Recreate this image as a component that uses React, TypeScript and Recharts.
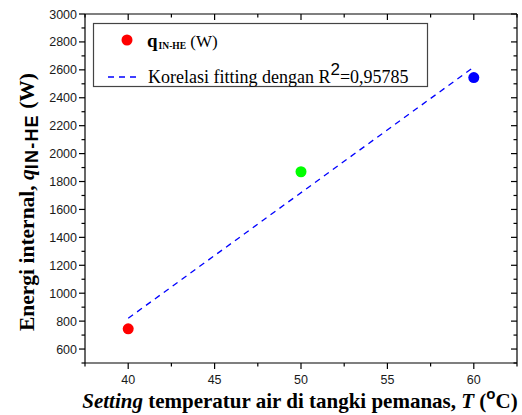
import { Cell, Scatter, ScatterChart, XAxis, YAxis } from "recharts";

const temps = [40, 50, 60];
const qValues = [745, 1870, 2545];
const pointColors = ["#ff0000", "#00ff00", "#0000ff"];

const fitTemps = [40, 60];
const fitValues = [820, 2620];

const xMajor = [40, 45, 50, 55, 60];
const xMinor = [37.5, 42.5, 47.5, 52.5, 57.5, 62.5];
const yMajor = [600, 800, 1000, 1200, 1400, 1600, 1800, 2000, 2200, 2400, 2600, 2800, 3000];
const yMinor = [500, 700, 900, 1100, 1300, 1500, 1700, 1900, 2100, 2300, 2500, 2700, 2900];

const xTicks = [...xMajor, ...xMinor].sort((a, b) => a - b);
const yTicks = [...yMajor, ...yMinor].sort((a, b) => a - b);

const points = temps.map((t, i) => ({ t, q: qValues[i] }));
const fit = fitTemps.map((t, i) => ({ t, q: fitValues[i] }));

const tickFont = { fontFamily: "'Liberation Sans', Arial, sans-serif", fontSize: 12.5, fill: "#1a1a1a" };
const serif = "'Liberation Serif', 'Times New Roman', serif";
const sans = "'Liberation Sans', Arial, sans-serif";

const XTick = (props: any) => {
  const { x, y, payload, showLabel } = props;
  const major = xMajor.includes(payload.value);
  const len = major ? 6 : 3.5;
  return (
    <g>
      <line x1={x} x2={x} y1={y} y2={y + len} stroke="#000" strokeWidth={1.2} />
      {showLabel && major && (
        <text x={x} y={y + 21} textAnchor="middle" {...tickFont}>
          {payload.value}
        </text>
      )}
    </g>
  );
};

const YTick = (props: any) => {
  const { x, y, payload, showLabel } = props;
  const major = yMajor.includes(payload.value);
  const len = major ? 6 : 3.5;
  return (
    <g>
      <line x1={x - len} x2={x} y1={y} y2={y} stroke="#000" strokeWidth={1.2} />
      {showLabel && major && (
        <text x={x - 8} y={y + 4.5} textAnchor="end" {...tickFont}>
          {payload.value}
        </text>
      )}
    </g>
  );
};

export default function App() {
  return (
    <div style={{ position: "absolute", left: 0, top: 0, width: 522, height: 415, background: "#fff" }}>
      <ScatterChart width={522} height={415} margin={{ top: 14, right: 5, left: 0, bottom: 0 }}>
        <XAxis
          xAxisId="b"
          dataKey="t"
          type="number"
          domain={[37.5, 62.5]}
          ticks={xTicks}
          interval={0}
          height={52}
          tickSize={0}
          tickMargin={0}
          axisLine={{ stroke: "#000", strokeWidth: 1.2 }}
          tick={<XTick showLabel />}
          allowDataOverflow
        />
        <XAxis
          xAxisId="t"
          dataKey="t"
          type="number"
          orientation="top"
          mirror
          domain={[37.5, 62.5]}
          ticks={xTicks}
          interval={0}
          height={1}
          tickSize={0}
          tickMargin={0}
          axisLine={{ stroke: "#000", strokeWidth: 1.2 }}
          tick={<XTick />}
          allowDataOverflow
        />
        <YAxis
          yAxisId="l"
          dataKey="q"
          type="number"
          domain={[500, 3000]}
          ticks={yTicks}
          interval={0}
          width={85}
          tickSize={0}
          tickMargin={0}
          axisLine={{ stroke: "#000", strokeWidth: 1.2 }}
          tick={<YTick showLabel />}
          allowDataOverflow
        />
        <YAxis
          yAxisId="r"
          dataKey="q"
          type="number"
          orientation="right"
          mirror
          domain={[500, 3000]}
          ticks={yTicks}
          interval={0}
          width={1}
          tickSize={0}
          tickMargin={0}
          axisLine={{ stroke: "#000", strokeWidth: 1.2 }}
          tick={<YTick />}
          allowDataOverflow
        />
        <Scatter
          xAxisId="b"
          yAxisId="l"
          data={fit}
          line={{ stroke: "#0000ff", strokeWidth: 1.3, strokeDasharray: "6 5" }}
          shape={() => <g />}
          isAnimationActive={false}
        />
        <Scatter
          xAxisId="b"
          yAxisId="l"
          data={points}
          isAnimationActive={false}
          shape={(p: any) => <circle cx={p.cx} cy={p.cy} r={5.5} fill={p.fill} />}
        >
          {points.map((_, i) => (
            <Cell key={i} fill={pointColors[i]} />
          ))}
        </Scatter>
      </ScatterChart>
      <svg width={522} height={415} style={{ position: "absolute", left: 0, top: 0, pointerEvents: "none" }}>
        <rect x={93.5} y={23.5} width={334} height={63} fill="#fff" stroke="#444" strokeWidth={1.2} />
        <circle cx={127} cy={40} r={5.5} fill="#ff0000" />
        <text x={147} y={47} fontFamily={serif} fontSize={19} fill="#000">
          <tspan fontWeight="bold">q</tspan>
          <tspan fontWeight="bold" fontSize={9.5} dy={2} dx={1}>IN-HE</tspan>
          <tspan dy={-2} fontSize={17}> (W)</tspan>
        </text>
        <line x1={108} x2={139} y1={77} y2={77} stroke="#0000ff" strokeWidth={1.3} strokeDasharray="6 5" />
        <text x={148} y={83} fontFamily={serif} fontSize={18} fill="#000">
          <tspan>Korelasi fitting dengan R</tspan>
          <tspan fontFamily={sans} fontSize={17} dy={-8}>2</tspan>
          <tspan dy={8}>=0,95785</tspan>
        </text>
        <text x={300} y={408} textAnchor="middle" fontFamily={serif} fontSize={21} fontWeight="bold" fill="#000">
          <tspan fontStyle="italic">Setting</tspan>
          <tspan> temperatur air di tangki pemanas, </tspan>
          <tspan fontStyle="italic">T</tspan>
          <tspan> (</tspan>
          <tspan fontFamily={sans} fontSize={15} dy={-9}>o</tspan>
          <tspan dy={9}>C)</tspan>
        </text>
        <text
          transform="translate(34, 202) rotate(-90)"
          textAnchor="middle"
          fontFamily={serif}
          fontSize={21.5}
          fontWeight="bold"
          fill="#000"
        >
          <tspan>Energi internal, </tspan>
          <tspan fontStyle="italic">q</tspan>
          <tspan fontFamily={sans} fontSize={18} letterSpacing={1.2} dy={4}>IN-HE</tspan>
          <tspan dy={-4}>   (W)</tspan>
        </text>
      </svg>
    </div>
  );
}
